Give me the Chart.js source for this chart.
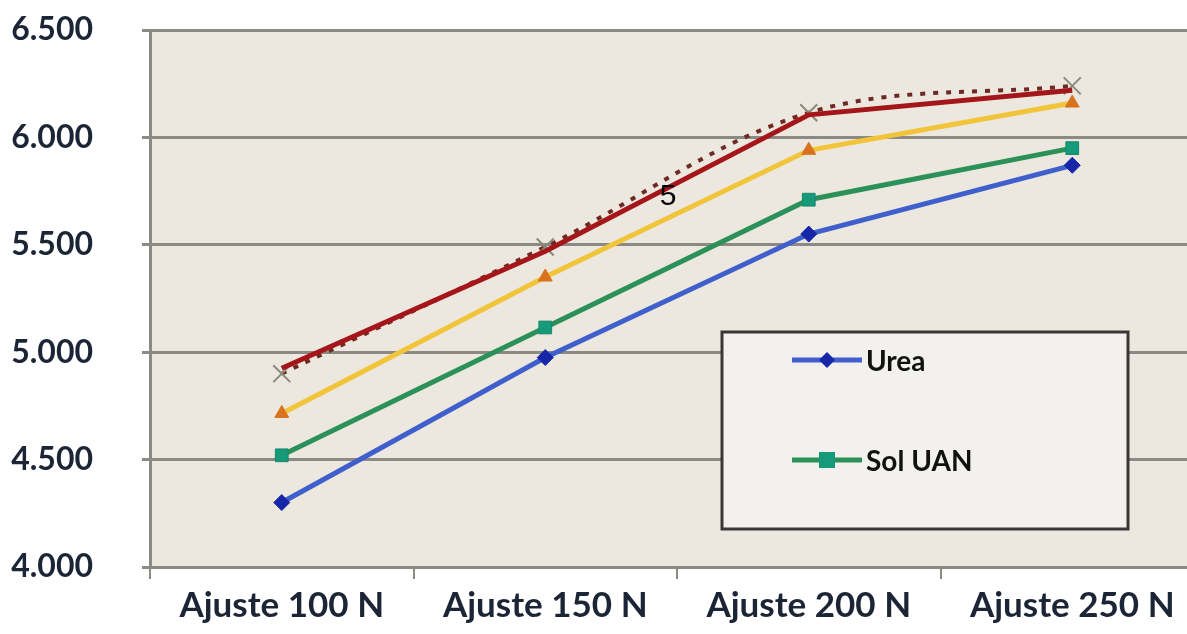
<!DOCTYPE html>
<html>
<head>
<meta charset="utf-8">
<script src="https://cdn.jsdelivr.net/npm/chart.js@4.4.1/dist/chart.umd.min.js"></script>
<style>
html,body{margin:0;padding:0;background:#ffffff;overflow:hidden;width:1187px;height:634px;}
#wrap{position:absolute;left:0;top:0;width:1218px;height:634px;}
</style>
</head>
<body>
<div id="wrap"><canvas id="c" width="1218" height="634"></canvas></div>
<script>
const categories = ['Ajuste 100 N', 'Ajuste 150 N', 'Ajuste 200 N', 'Ajuste 250 N'];
const urea = [4300, 4975, 5550, 5870];
const solUAN = [4520, 5115, 5710, 5950];
const serieAmarilla = [4715, 5350, 5940, 6160];
const serieRoja = [4925, 5470, 6105, 6220];
const serieX = [4900, 5490, 6115, 6240];
const yTicks = [4000, 4500, 5000, 5500, 6000, 6500];
const seriesNames = ['Urea', 'Sol UAN', '', '', ''];
const strayLabel = '5';

const gridCol = '#8a8984';

const bgPlugin = {
  id: 'bg',
  beforeDraw(chart) {
    const {ctx, chartArea: a} = chart;
    ctx.save();
    ctx.fillStyle = '#ece8df';
    ctx.fillRect(a.left, a.top, a.right - a.left, a.bottom - a.top);
    ctx.restore();
  }
};

const legendPlugin = {
  id: 'boxLegend',
  afterDatasetsDraw(chart) {
    const ctx = chart.ctx;
    ctx.save();
    ctx.fillStyle = '#f2f1ee';
    ctx.fillRect(722, 332, 406, 197);
    ctx.strokeStyle = '#3a3836';
    ctx.lineWidth = 3;
    ctx.strokeRect(722, 332, 406, 197);
    const rows = [0, 1];
    const ys = [360, 460];
    rows.forEach((di, i) => {
      const ds = chart.data.datasets[di];
      const y = ys[i];
      ctx.strokeStyle = ds.borderColor;
      ctx.lineWidth = 5;
      ctx.beginPath();
      ctx.moveTo(792, y);
      ctx.lineTo(862, y);
      ctx.stroke();
      ctx.fillStyle = ds.pointBackgroundColor;
      ctx.beginPath();
      if (ds.pointStyle === 'rectRot') {
        ctx.moveTo(827, y - 8); ctx.lineTo(835, y); ctx.lineTo(827, y + 8); ctx.lineTo(819, y);
      } else {
        ctx.rect(819, y - 8, 16, 16);
      }
      ctx.closePath();
      ctx.fill();
      ctx.fillStyle = '#111111';
      ctx.font = 'bold 28px Lato';
      ctx.textAlign = 'left';
      ctx.textBaseline = 'middle';
      ctx.fillText(ds.label, 866, y + 2);
    });
    ctx.font = '30px "Liberation Sans"';
    ctx.fillStyle = '#000000';
    ctx.textAlign = 'center';
    ctx.textBaseline = 'middle';
    ctx.fillText(strayLabel, 668, 197);
    ctx.restore();
  }
};

new Chart(document.getElementById('c'), {
  type: 'line',
  data: {
    labels: categories,
    datasets: [
      {label: seriesNames[0], data: urea, borderColor: '#3f5fcc', borderWidth: 5,
       pointStyle: 'rectRot', pointRadius: 8, pointBackgroundColor: '#1626a8', pointBorderColor: '#1626a8', pointBorderWidth: 1, tension: 0},
      {label: seriesNames[1], data: solUAN, borderColor: '#2b9158', borderWidth: 5,
       pointStyle: 'rect', pointRadius: 9, pointBackgroundColor: '#179a7a', pointBorderColor: '#14886c', pointBorderWidth: 1, tension: 0},
      {label: seriesNames[2], data: serieAmarilla, borderColor: '#f1c43a', borderWidth: 5,
       pointStyle: 'triangle', pointRadius: 8, pointBackgroundColor: '#d8721c', pointBorderColor: '#d8721c', pointBorderWidth: 1, tension: 0},
      {label: seriesNames[3], data: serieRoja, borderColor: '#a5161a', borderWidth: 5,
       pointRadius: 0, tension: 0},
      {label: seriesNames[4], data: serieX, borderColor: '#6e2a22', borderWidth: 4, borderDash: [5, 8],
       pointStyle: 'crossRot', pointRadius: 12, pointBorderColor: '#8a8a7c', pointBorderWidth: 2, pointBackgroundColor: 'transparent', tension: 0.35}
    ]
  },
  options: {
    responsive: false,
    animation: false,
    devicePixelRatio: 1,
    layout: {padding: {top: 30, right: 2, left: 0, bottom: 0}},
    plugins: {legend: {display: false}, tooltip: {enabled: false}, title: {display: false}},
    scales: {
      x: {
        offset: true,
        grid: {offset: true, drawOnChartArea: false, drawTicks: true, tickLength: 12, color: gridCol, lineWidth: 2},
        border: {display: true, color: gridCol, width: 3},
        ticks: {font: {family: 'Lato', weight: 'bold', size: 35}, color: '#1b2535', padding: 6, maxRotation: 0, autoSkip: false},
        afterFit(s) { s.height = 67; s.paddingLeft = 0; s.paddingRight = 0; }
      },
      y: {
        min: 4000, max: 6500,
        afterBuildTicks(s) { s.ticks = yTicks.map(v => ({value: v})); },
        grid: {color: gridCol, lineWidth: 3, tickLength: 8, drawTicks: true},
        border: {display: true, color: gridCol, width: 3},
        ticks: {font: {family: 'Lato', weight: 'bold', size: 32}, color: '#1b2535', padding: 49,
          callback: v => v.toLocaleString('de-DE', {minimumFractionDigits: 0}).replace(',', '.')},
        afterFit(s) { s.width = 150; s.paddingTop = 0; s.paddingBottom = 0; }
      }
    }
  },
  plugins: [bgPlugin, legendPlugin]
});
</script>
</body>
</html>
